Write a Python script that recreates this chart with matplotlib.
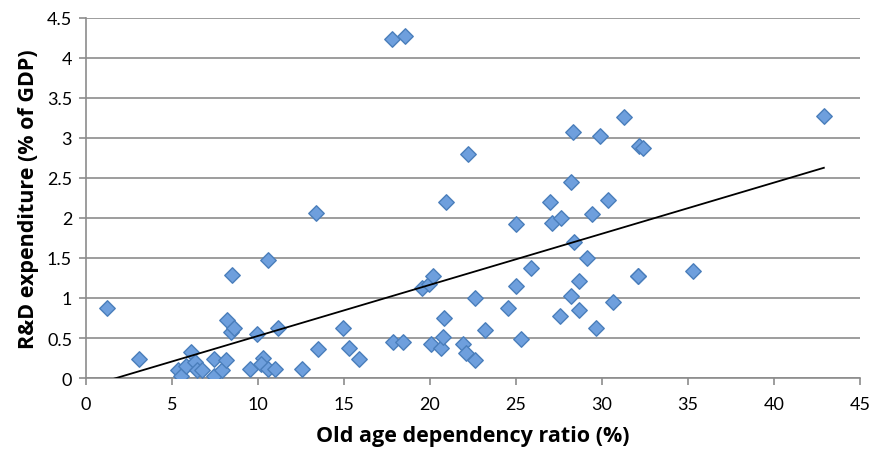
import matplotlib
matplotlib.use("Agg")
import matplotlib.pyplot as plt
import numpy as np

# Old age dependency ratio (%) vs R&D expenditure (% of GDP)
dependency_ratio = [
    1.24, 3.10, 5.35, 5.52, 5.81, 6.12, 6.34, 6.44, 6.73, 7.44,
    7.44, 7.92, 8.12, 8.20, 8.41, 8.62, 8.49, 9.53, 9.92, 10.27,
    10.17, 10.56, 10.60, 11.00, 11.15, 12.54, 13.50, 13.39, 14.92, 15.27,
    15.85, 17.83, 18.41, 17.80, 18.55, 20.95, 19.52, 19.96, 20.19, 20.06,
    20.64, 20.78, 20.83, 21.90, 22.08, 22.63, 22.63, 22.20, 23.20, 24.52,
    24.98, 25.00, 25.27, 25.85, 26.98, 27.07, 27.63, 27.56, 28.20, 28.39,
    28.20, 28.66, 28.66, 29.15, 29.44, 29.63, 30.33, 30.66, 32.08, 31.28,
    28.31, 29.90, 32.17, 32.40, 35.27, 42.90, 32.07,
]
rd_expenditure = [
    0.87, 0.24, 0.10, 0.03, 0.15, 0.33, 0.20, 0.10, 0.10, 0.24,
    0.03, 0.10, 0.22, 0.73, 0.58, 0.63, 1.29, 0.11, 0.55, 0.25,
    0.17, 1.48, 0.11, 0.11, 0.63, 0.11, 0.36, 2.06, 0.63, 0.38,
    0.24, 0.45, 0.45, 4.24, 4.28, 2.20, 1.13, 1.17, 1.28, 0.43,
    0.38, 0.51, 0.75, 0.43, 0.31, 0.22, 1.00, 2.80, 0.60, 0.87,
    1.15, 1.93, 0.49, 1.38, 2.20, 1.94, 2.00, 0.77, 2.45, 1.70,
    1.03, 1.21, 0.85, 1.50, 2.05, 0.63, 2.23, 0.95, 1.28, 3.26,
    3.08, 3.02, 2.90, 2.87, 1.34, 3.28, 1.27,
]

x = np.array(dependency_ratio)
y = np.array(rd_expenditure)

plt.rcParams["font.family"] = ["Lato", "DejaVu Sans"]

fig = plt.figure(figsize=(8.76, 4.52), dpi=100)
ax = fig.add_axes([0.0982, 0.1615, 0.8835, 0.7965])

grid_col = "#8c8c8c"
ax.set_axisbelow(True)
ax.yaxis.grid(True, color=grid_col, linewidth=1.2)

ax.scatter(x, y, marker="D", s=62, facecolor="#6E9FDD",
           edgecolor="#4A7EBB", linewidths=1.0, zorder=3)

# linear trend line over the data range
slope, intercept = np.polyfit(x, y, 1)
xs = np.array([x.min(), x.max()])
ax.plot(xs, slope * xs + intercept, color="black", linewidth=1.3, zorder=4)

ax.set_xlim(0, 45)
ax.set_ylim(0, 4.5)
ax.set_xticks(np.arange(0, 46, 5))
ax.set_yticks(np.arange(0, 4.51, 0.5))
ax.set_yticklabels(["0", "0.5", "1", "1.5", "2", "2.5", "3", "3.5", "4", "4.5"])

for s in ["top", "right"]:
    ax.spines[s].set_visible(False)
for s in ["left", "bottom"]:
    ax.spines[s].set_color(grid_col)
    ax.spines[s].set_linewidth(1.2)
ax.tick_params(axis="both", colors=grid_col, labelcolor="black",
               labelsize=13, length=5, width=1.2)
ax.tick_params(axis="x", pad=8)
ax.tick_params(axis="y", pad=5)

label_font = dict(family=["Open Sans", "DejaVu Sans"], fontsize=15.5,
                  fontweight="bold")
ax.set_xlabel("Old age dependency ratio (%)", labelpad=9, **label_font)
ax.set_ylabel("R&D expenditure (% of GDP)", labelpad=6, **label_font)

fig.savefig("out.png", dpi=100)
